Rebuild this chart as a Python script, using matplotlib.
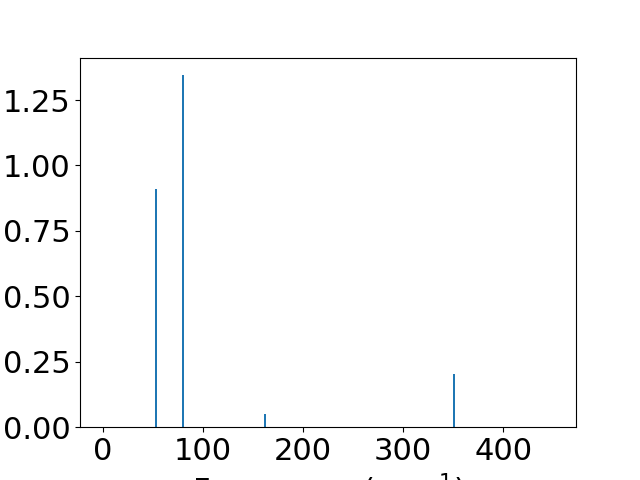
import matplotlib
matplotlib.use('Agg')
import matplotlib.pyplot as plt

# Vibrational modes
frequencies = [53.3, 80.1, 162.5, 350.5]
intensities = [0.91, 1.345, 0.052, 0.203]
freq_range = [0, 450]

plt.rcParams['font.size'] = 22

fig, ax = plt.subplots(figsize=(6.4, 4.8), dpi=100)
ax.bar(frequencies, intensities, width=2.0, color='#1f77b4')
pad = 0.05 * (freq_range[1] - freq_range[0])
ax.set_xlim(freq_range[0] - pad, freq_range[1] + pad)
ax.set_xlabel('Frequency (cm$^{-1}$)')

fig.savefig('out.png', dpi=100)
